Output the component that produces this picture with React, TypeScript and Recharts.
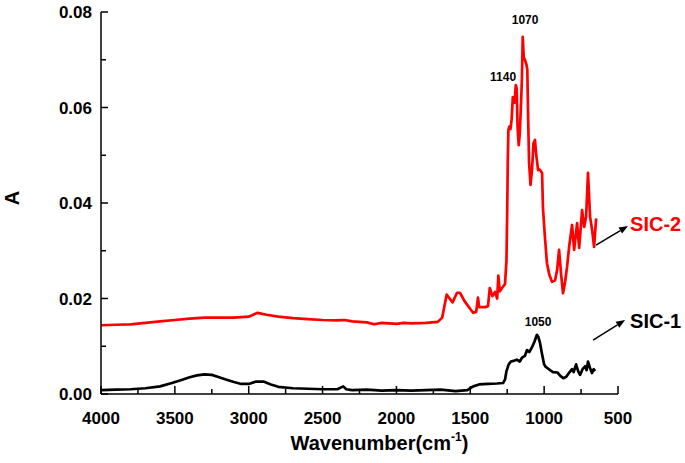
import React from 'react';
import { LineChart, Line, XAxis, YAxis, ReferenceDot, ReferenceLine } from 'recharts';

// SIC-2 (red) spectrum: wavenumber (cm-1) and absorbance
const sic2Wave = [4000, 3900, 3800, 3700, 3600, 3500, 3400, 3300, 3200, 3100, 3000, 2940, 2880, 2800, 2700, 2600, 2500, 2400, 2350, 2300, 2200, 2150, 2100, 2050, 2000, 1950, 1900, 1800, 1720, 1690, 1660, 1640, 1620, 1590, 1570, 1540, 1500, 1480, 1460, 1448, 1440, 1400, 1380, 1368, 1350, 1332, 1318, 1310, 1300, 1285, 1265, 1255, 1250, 1246, 1242, 1236, 1228, 1220, 1212, 1200, 1192, 1186, 1180, 1172, 1165, 1155, 1150, 1145, 1138, 1130, 1120, 1114, 1108, 1102, 1092, 1082, 1072, 1062, 1055, 1041, 1030, 1014, 1008, 995, 981, 965, 947, 926, 912, 899, 885, 872, 858, 845, 830, 811, 797, 777, 763, 743, 729, 716, 703, 689, 675, 662, 648];
const sic2Abs = [0.0144, 0.0145, 0.0146, 0.0149, 0.0152, 0.0155, 0.0158, 0.016, 0.016, 0.016, 0.0162, 0.017, 0.0166, 0.0162, 0.0159, 0.0157, 0.0155, 0.0154, 0.0155, 0.0152, 0.015, 0.0146, 0.0149, 0.0148, 0.0147, 0.0149, 0.0148, 0.0149, 0.0151, 0.016, 0.0208, 0.02, 0.0192, 0.0212, 0.0212, 0.0195, 0.0178, 0.017, 0.0172, 0.0202, 0.0182, 0.0182, 0.0184, 0.0222, 0.0205, 0.0214, 0.02, 0.0248, 0.0215, 0.0222, 0.023, 0.028, 0.0385, 0.049, 0.0553, 0.056, 0.0555, 0.0575, 0.0622, 0.061, 0.0647, 0.064, 0.056, 0.0521, 0.0545, 0.062, 0.0665, 0.0748, 0.0705, 0.07, 0.069, 0.068, 0.0574, 0.0484, 0.0438, 0.047, 0.0525, 0.0532, 0.0505, 0.0469, 0.047, 0.0463, 0.039, 0.033, 0.0274, 0.025, 0.0235, 0.0238, 0.026, 0.0302, 0.025, 0.0211, 0.0235, 0.0266, 0.031, 0.0354, 0.0302, 0.0358, 0.0306, 0.0385, 0.035, 0.0371, 0.0463, 0.0371, 0.0343, 0.0308, 0.0368];

// SIC-1 (black) spectrum
const sic1Wave = [4000, 3900, 3800, 3700, 3600, 3520, 3450, 3400, 3350, 3300, 3250, 3200, 3150, 3100, 3050, 3000, 2950, 2900, 2850, 2800, 2700, 2600, 2500, 2400, 2360, 2340, 2300, 2200, 2100, 2000, 1900, 1800, 1700, 1600, 1520, 1480, 1440, 1380, 1320, 1278, 1265, 1255, 1240, 1225, 1200, 1185, 1165, 1150, 1130, 1116, 1100, 1082, 1065, 1049, 1040, 1028, 1015, 1000, 990, 960, 940, 910, 890, 870, 850, 830, 811, 800, 784, 770, 757, 740, 723, 712, 703, 690, 676, 665, 655];
const sic1Abs = [0.0008, 0.0009, 0.001, 0.0012, 0.0016, 0.0023, 0.003, 0.0035, 0.0039, 0.0041, 0.004, 0.0035, 0.003, 0.0025, 0.0021, 0.0021, 0.0026, 0.0026, 0.002, 0.0015, 0.0012, 0.0011, 0.001, 0.001, 0.0016, 0.001, 0.0008, 0.0009, 0.0007, 0.0008, 0.0007, 0.0008, 0.0009, 0.0006, 0.0008, 0.0016, 0.002, 0.0021, 0.0022, 0.0023, 0.003, 0.0048, 0.0062, 0.0068, 0.007, 0.0072, 0.0068, 0.0076, 0.008, 0.0092, 0.0088, 0.0098, 0.011, 0.0124, 0.012, 0.0107, 0.0085, 0.0062, 0.0057, 0.005, 0.0046, 0.0045, 0.0038, 0.0033, 0.0036, 0.0045, 0.0052, 0.0046, 0.0062, 0.0048, 0.004, 0.0052, 0.0058, 0.005, 0.0068, 0.0055, 0.0044, 0.0052, 0.0048];

// axis ticks
const xTicks = [4000, 3750, 3500, 3250, 3000, 2750, 2500, 2250, 2000, 1750, 1500, 1250, 1000, 750, 500];
const xMajor = [4000, 3500, 3000, 2500, 2000, 1500, 1000, 500];
const yTicks = [0, 0.01, 0.02, 0.03, 0.04, 0.05, 0.06, 0.07, 0.08];
const yMajor = [0, 0.02, 0.04, 0.06, 0.08];

// peak annotations (wavenumber, absorbance, text)
const peakWave = [1129, 1278, 1041];
const peakAbs = [0.0783, 0.0664, 0.0151];
const peakText = ['1070', '1140', '1050'];

// series name labels and their arrows
const nameText = ['SIC-2', 'SIC-1'];
const nameWave = [418, 418];
const nameAbs = [0.0356, 0.0152];
const arrowFromWave = [649, 669];
const arrowFromAbs = [0.0312, 0.0113];
const arrowToWave = [432, 452];
const arrowToAbs = [0.0352, 0.0155];

const sic2Data = sic2Wave.map((w, i) => ({ w, a: sic2Abs[i] }));
const sic1Data = sic1Wave.map((w, i) => ({ w, a: sic1Abs[i] }));

const FONT = '"Liberation Sans", Arial, sans-serif';

const XTick = (props: any) => {
  const { x, y, payload } = props;
  const major = xMajor.includes(payload.value);
  return (
    <g>
      <line x1={x} x2={x} y1={y} y2={y - (major ? 8 : 5)} stroke="#000" strokeWidth={1.5} />
      {major && (
        <text x={x} y={y + 30} textAnchor="middle" fontFamily={FONT} fontWeight="bold" fontSize={17} fill="#000">
          {payload.value}
        </text>
      )}
    </g>
  );
};

const YTick = (props: any) => {
  const { x, y, payload } = props;
  const major = yMajor.includes(payload.value);
  return (
    <g>
      <line x1={x} x2={x + (major ? 7 : 5)} y1={y} y2={y} stroke="#000" strokeWidth={1.5} />
      {major && (
        <text x={x - 9} y={y + 6} textAnchor="end" fontFamily={FONT} fontWeight="bold" fontSize={17} fill="#000">
          {payload.value.toFixed(2)}
        </text>
      )}
    </g>
  );
};

const XLabel = (props: any) => {
  const vb = props.viewBox || {};
  return (
    <text x={vb.x + vb.width / 2 + 20} y={vb.y + 56} textAnchor="middle" fontFamily={FONT} fontWeight="bold" fontSize={20} fill="#000">
      Wavenumber(cm
      <tspan fontSize={12} dy={-9}>-1</tspan>
      <tspan dy={9}>)</tspan>
    </text>
  );
};

const YLabel = (props: any) => {
  const vb = props.viewBox || {};
  const cx = vb.x + 19;
  const cy = vb.y + vb.height / 2 - 5;
  return (
    <text x={cx} y={cy} transform={`rotate(-90 ${cx} ${cy})`} textAnchor="middle" fontFamily={FONT} fontWeight="bold" fontSize={20} fill="#000">
      A
    </text>
  );
};

const Arrow = (props: any) => {
  const { x1, y1, x2, y2 } = props;
  const ang = Math.atan2(y2 - y1, x2 - x1);
  const len = 9;
  const half = 3.5;
  const bx = x2 - len * Math.cos(ang);
  const by = y2 - len * Math.sin(ang);
  const px = -Math.sin(ang) * half;
  const py = Math.cos(ang) * half;
  return (
    <g>
      <line x1={x1} y1={y1} x2={bx} y2={by} stroke="#000" strokeWidth={1.5} />
      <polygon points={`${x2},${y2} ${bx + px},${by + py} ${bx - px},${by - py}`} fill="#000" />
    </g>
  );
};

export default function App() {
  return (
    <div style={{ position: 'absolute', left: 0, top: 0 }}>
      <LineChart width={685} height={463} margin={{ top: 12, right: 67, left: 0, bottom: 0 }}>
        <XAxis
          type="number"
          dataKey="w"
          domain={[500, 4000]}
          reversed
          ticks={xTicks}
          interval={0}
          allowDataOverflow
          height={69}
          tickSize={0}
          tickMargin={0}
          tickLine={false}
          tick={<XTick />}
          axisLine={{ stroke: '#000', strokeWidth: 1.5 }}
          label={{ content: XLabel }}
        />
        <YAxis
          type="number"
          domain={[0, 0.08]}
          ticks={yTicks}
          interval={0}
          allowDataOverflow
          width={101}
          tickSize={0}
          tickMargin={0}
          tickLine={false}
          tick={<YTick />}
          axisLine={{ stroke: '#000', strokeWidth: 1.5 }}
          label={{ content: YLabel }}
        />
        <Line data={sic2Data} dataKey="a" type="linear" stroke="#ff0000" strokeWidth={2.7} strokeLinejoin="round" dot={false} isAnimationActive={false} />
        <Line data={sic1Data} dataKey="a" type="linear" stroke="#000000" strokeWidth={2.7} strokeLinejoin="round" dot={false} isAnimationActive={false} />
        {peakText.map((t, i) => (
          <ReferenceDot
            key={t}
            x={peakWave[i]}
            y={peakAbs[i]}
            r={0}
            ifOverflow="visible"
            shape={(p: any) => (
              <text x={p.cx} y={p.cy + 4} textAnchor="middle" fontFamily={FONT} fontWeight="bold" fontSize={12} fill="#000">
                {t}
              </text>
            )}
          />
        ))}
        {nameText.map((t, i) => (
          <ReferenceLine
            key={'arr' + t}
            segment={[
              { x: arrowFromWave[i], y: arrowFromAbs[i] },
              { x: arrowToWave[i], y: arrowToAbs[i] },
            ]}
            ifOverflow="visible"
            shape={Arrow}
          />
        ))}
        {nameText.map((t, i) => (
          <ReferenceDot
            key={t}
            x={nameWave[i]}
            y={nameAbs[i]}
            r={0}
            ifOverflow="visible"
            shape={(p: any) => (
              <text x={p.cx} y={p.cy + 7} textAnchor="start" fontFamily={FONT} fontWeight="bold" fontSize={20} fill={i === 0 ? '#ff0000' : '#000'}>
                {t}
              </text>
            )}
          />
        ))}
      </LineChart>
    </div>
  );
}
